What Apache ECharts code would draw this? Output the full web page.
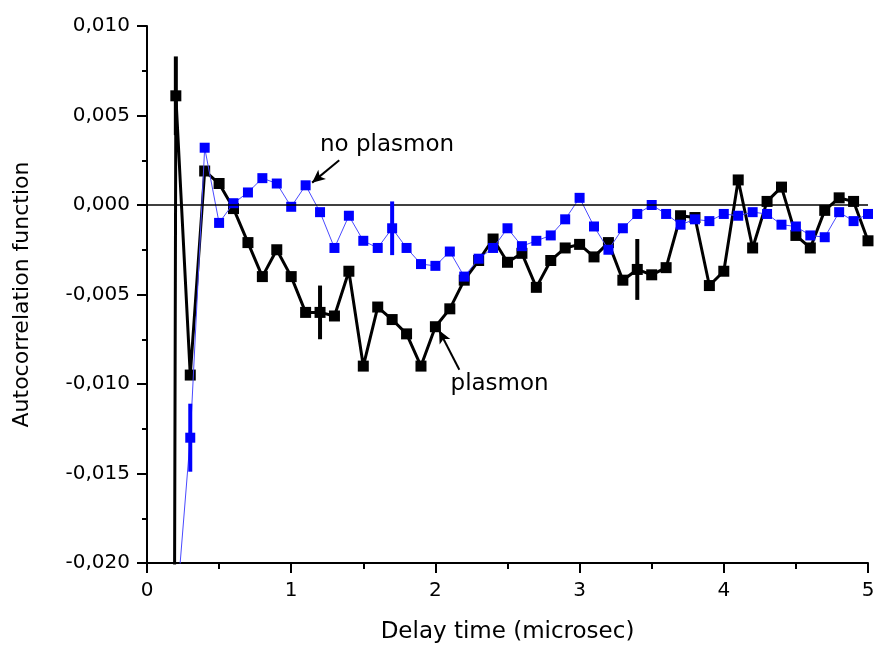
<!DOCTYPE html>
<html>
<head>
<meta charset="utf-8">
<script src="https://cdn.jsdelivr.net/npm/echarts@6/dist/echarts.min.js"></script>
<style>
  html, body { margin: 0; padding: 0; background: #fff; }
  #chart { width: 876px; height: 648px; }
</style>
</head>
<body>
<div id="chart"></div>
<script>
// delay time (microsec)
const delayTime = [
  0.1, 0.2, 0.3, 0.4, 0.5, 0.6, 0.7, 0.8, 0.9, 1.0,
  1.1, 1.2, 1.3, 1.4, 1.5, 1.6, 1.7, 1.8, 1.9, 2.0,
  2.1, 2.2, 2.3, 2.4, 2.5, 2.6, 2.7, 2.8, 2.9, 3.0,
  3.1, 3.2, 3.3, 3.4, 3.5, 3.6, 3.7, 3.8, 3.9, 4.0,
  4.1, 4.2, 4.3, 4.4, 4.5, 4.6, 4.7, 4.8, 4.9, 5.0
]

// plasmon (black)
const plasmon = [
  -0.3, 0.0061, -0.0095, 0.0019, 0.0012, -0.0002, -0.0021, -0.0040, -0.0025, -0.0040,
  -0.0060, -0.0060, -0.0062, -0.0037, -0.0090, -0.0057, -0.0064, -0.0072, -0.0090, -0.0068,
  -0.0058, -0.0042, -0.0031, -0.0019, -0.0032, -0.0027, -0.0046, -0.0031, -0.0024, -0.0022,
  -0.0029, -0.0021, -0.0042, -0.0036, -0.0039, -0.0035, -0.0006, -0.0007, -0.0045, -0.0037,
  0.0014, -0.0024, 0.0002, 0.0010, -0.0017, -0.0024, -0.0003, 0.0004, 0.0002, -0.0020
]

// no plasmon (blue)
const noPlasmon = [
  null, -0.023, -0.0130, 0.0032, -0.0010, 0.0001, 0.0007, 0.0015, 0.0012, -0.0001,
  0.0011, -0.0004, -0.0024, -0.0006, -0.0020, -0.0024, -0.0013, -0.0024, -0.0033, -0.0034,
  -0.0026, -0.0040, -0.0030, -0.0024, -0.0013, -0.0023, -0.0020, -0.0017, -0.0008, 0.0004,
  -0.0012, -0.0025, -0.0013, -0.0005, 0.0000, -0.0005, -0.0011, -0.0008, -0.0009, -0.0005,
  -0.0006, -0.0004, -0.0005, -0.0011, -0.0012, -0.0017, -0.0018, -0.0004, -0.0009, -0.0005
]

// error bars: where they are and half-length
const plasmonErrAt = [0.2, 1.2, 3.4]
const plasmonErr = [0.0022, 0.0015, 0.0017]
const noPlasmonErrAt = [0.3, 1.7]
const noPlasmonErr = [0.0019, 0.0015]

const FONT = 'DejaVu Sans'

function idxOf(t) {
  return delayTime.findIndex(x => Math.abs(x - t) < 1e-9)
}

function pairs(values) {
  return delayTime.map((t, i) => [t, values[i]])
}

function errData(at, err, values) {
  return at.map((t, i) => [t, values[idxOf(t)], err[i]])
}

function errRender(color) {
  return function (params, api) {
    const t = api.value(0)
    const v = api.value(1)
    const e = api.value(2)
    const p1 = api.coord([t, v + e])
    const p2 = api.coord([t, v - e])
    return {
      type: 'line',
      shape: { x1: p1[0], y1: p1[1], x2: p2[0], y2: p2[1] },
      style: { stroke: color, lineWidth: 4 }
    }
  }
}

const chart = echarts.init(document.getElementById('chart'))

const option = {
  animation: false,
  backgroundColor: '#fff',
  grid: {
    left: 147,
    right: 8,
    top: 26,
    bottom: 85,
    outerBoundsMode: 'none'
  },
  xAxis: {
    type: 'value',
    min: 0,
    max: 5,
    interval: 1,
    name: 'Delay time (microsec)',
    nameLocation: 'middle',
    nameGap: 58,
    nameTextStyle: { fontFamily: FONT, fontSize: 23, color: '#000' },
    axisLine: { onZero: false, lineStyle: { color: '#000', width: 2 } },
    axisTick: { inside: false, length: 10, lineStyle: { color: '#000', width: 2 } },
    minorTick: { show: true, splitNumber: 2, length: 6, lineStyle: { color: '#000', width: 2 } },
    splitLine: { show: false },
    axisLabel: { fontFamily: FONT, fontSize: 20, color: '#000', margin: 18 }
  },
  yAxis: {
    type: 'value',
    min: -0.02,
    max: 0.01,
    interval: 0.005,
    name: 'Autocorrelation function',
    nameLocation: 'middle',
    nameRotate: 90,
    nameGap: 114,
    nameTextStyle: { fontFamily: FONT, fontSize: 22, color: '#000' },
    axisLine: { show: true, onZero: false, lineStyle: { color: '#000', width: 2 } },
    axisTick: { show: true, inside: false, length: 10, lineStyle: { color: '#000', width: 2 } },
    minorTick: { show: true, splitNumber: 2, length: 5, lineStyle: { color: '#000', width: 2 } },
    splitLine: { show: false },
    axisLabel: {
      fontFamily: FONT,
      fontSize: 20,
      color: '#000',
      margin: 17,
      formatter: v => (Math.abs(v) < 1e-9 ? 0 : v).toFixed(3).replace('.', ',')
    }
  },
  series: [
    {
      name: 'plasmon',
      type: 'line',
      data: pairs(plasmon),
      symbol: 'rect',
      symbolSize: 11,
      itemStyle: { color: '#000' },
      lineStyle: { color: '#000', width: 3 },
      z: 2,
      markLine: {
        silent: true,
        symbol: 'none',
        label: { show: false },
        lineStyle: { color: '#000', width: 1.5, type: 'solid' },
        data: [
          { yAxis: 0 },
          [
            { coord: [1.333, 0.0025], symbol: 'none', lineStyle: { width: 2 } },
            { coord: [1.145, 0.00125], symbol: 'arrow', symbolSize: [9, 13] }
          ],
          [
            { coord: [2.166, -0.0092], symbol: 'none', lineStyle: { width: 2 } },
            { coord: [2.025, -0.0070], symbol: 'arrow', symbolSize: [9, 13] }
          ]
        ]
      },
      markPoint: {
        silent: true,
        symbol: 'circle',
        symbolSize: 0,
        label: {
          show: true,
          position: 'right',
          distance: 0,
          fontFamily: FONT,
          fontSize: 23,
          color: '#000'
        },
        data: [
          { coord: [1.2, 0.00335], label: { formatter: 'no plasmon' } },
          { coord: [2.105, -0.0100], label: { formatter: 'plasmon' } }
        ]
      }
    },
    {
      name: 'plasmon err',
      type: 'custom',
      renderItem: errRender('#000'),
      data: errData(plasmonErrAt, plasmonErr, plasmon),
      z: 3
    },
    {
      name: 'no plasmon',
      type: 'line',
      data: pairs(noPlasmon),
      connectNulls: false,
      symbol: 'rect',
      symbolSize: 10,
      itemStyle: { color: '#0000ff' },
      lineStyle: { color: '#4a4aff', width: 1 },
      z: 4
    },
    {
      name: 'no plasmon err',
      type: 'custom',
      renderItem: errRender('#0000ff'),
      data: errData(noPlasmonErrAt, noPlasmonErr, noPlasmon),
      z: 5
    }
  ]
}

chart.setOption(option)
</script>
</body>
</html>
